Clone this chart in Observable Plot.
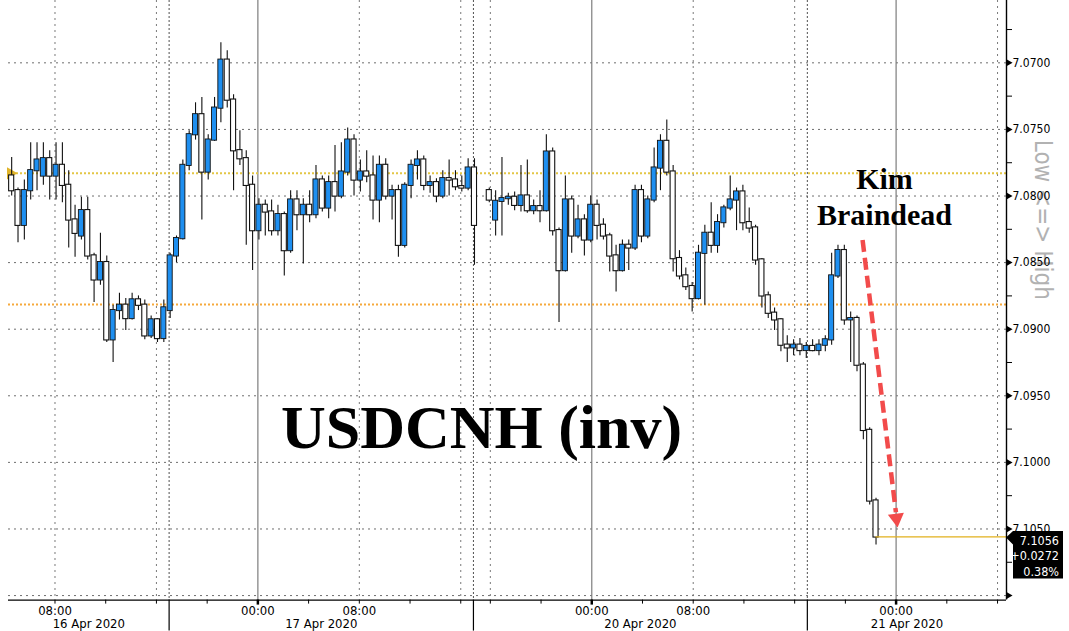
<!DOCTYPE html>
<html><head><meta charset="utf-8">
<script src="https://cdn.jsdelivr.net/npm/d3@7"></script>
<script src="https://cdn.jsdelivr.net/npm/@observablehq/plot@0.6"></script>
<style>
html,body{margin:0;padding:0;background:#fff;}
#chart{width:1069px;height:631px;overflow:hidden;}
</style></head><body><div id="chart"></div>
<script>
// x = trading-hour index: hours since 16 Apr 2020 00:00 (weekend collapsed: 20 Apr 00:00 -> 50.333)
const xMin = 4.333, xMax = 83.04;
const yMin = 7.06532, yMax = 7.11034;   // axis is inverted (higher USDCNH lower on the chart)

// 30-minute candles, session A: 16 Apr 04:20 -> 17 Apr 17:00
const segAStart = 4.333;
const aOpen  = [7.0785,7.0796,7.0822,7.0796,7.0781,7.0785,7.0772,7.0785,7.0777,7.0792,
                7.0818,7.0830,7.0811,7.0845,7.0863,7.0850,7.0908,7.0886,7.0882,7.0892,
                7.0878,7.0882,7.0905,7.0893,7.0907,7.0886,7.0845,7.0832,7.0777,7.0754,
                7.0739,7.0782,7.0758,7.0734,7.0698,7.0728,7.0766,7.0772,7.0792,7.0826,
                7.0807,7.0812,7.0826,7.0814,7.0841,7.0803,7.0814,7.0807,7.0814,7.0788,
                7.0809,7.0790,7.0800,7.0782,7.0758,7.0788,7.0782,7.0785,7.0803,7.0777,
                7.0800,7.0796,7.0837,7.0792,7.0777,7.0773,7.0792,7.0790,7.0800,7.0787,
                7.0788,7.0793,7.0794,7.0779];
const aLow   = [7.0771,7.0794,7.0788,7.0760,7.0760,7.0760,7.0766,7.0760,7.0760,7.0781,
                7.0807,7.0801,7.0801,7.0843,7.0828,7.0845,7.0882,7.0873,7.0877,7.0873,
                7.0875,7.0878,7.0890,7.0892,7.0878,7.0843,7.0830,7.0773,7.0751,7.0730,
                7.0726,7.0754,7.0726,7.0685,7.0691,7.0724,7.0751,7.0766,7.0785,7.0802,
                7.0803,7.0803,7.0807,7.0812,7.0796,7.0796,7.0802,7.0796,7.0777,7.0785,
                7.0785,7.0762,7.0760,7.0749,7.0754,7.0773,7.0766,7.0770,7.0770,7.0772,
                7.0792,7.0792,7.0790,7.0773,7.0766,7.0770,7.0785,7.0787,7.0781,7.0773,
                7.0781,7.0785,7.0772,7.0772];
const aHigh  = [7.0800,7.0835,7.0833,7.0803,7.0796,7.0792,7.0803,7.0803,7.0805,7.0839,
                7.0846,7.0833,7.0848,7.0880,7.0867,7.0910,7.0925,7.0893,7.0901,7.0893,
                7.0886,7.0908,7.0907,7.0910,7.0910,7.0892,7.0850,7.0833,7.0781,7.0758,
                7.0818,7.0788,7.0759,7.0745,7.0734,7.0796,7.0777,7.0837,7.0856,7.0833,
                7.0830,7.0830,7.0830,7.0860,7.0843,7.0826,7.0851,7.0820,7.0817,7.0812,
                7.0817,7.0812,7.0802,7.0785,7.0800,7.0797,7.0790,7.0818,7.0820,7.0803,
                7.0818,7.0846,7.0839,7.0802,7.0788,7.0796,7.0798,7.0805,7.0802,7.0800,
                7.0796,7.0797,7.0796,7.0852];
const aClose = [7.0796,7.0822,7.0796,7.0781,7.0773,7.0772,7.0785,7.0777,7.0792,7.0818,
                7.0828,7.0811,7.0845,7.0863,7.0850,7.0908,7.0886,7.0882,7.0892,7.0878,
                7.0882,7.0905,7.0893,7.0907,7.0884,7.0845,7.0832,7.0777,7.0754,7.0739,
                7.0782,7.0758,7.0734,7.0698,7.0728,7.0766,7.0772,7.0792,7.0826,7.0807,
                7.0812,7.0826,7.0814,7.0841,7.0803,7.0814,7.0807,7.0814,7.0788,7.0809,
                7.0790,7.0800,7.0782,7.0758,7.0788,7.0782,7.0785,7.0803,7.0777,7.0800,
                7.0796,7.0837,7.0792,7.0777,7.0773,7.0792,7.0790,7.0800,7.0787,7.0788,
                7.0793,7.0794,7.0779,7.0822];

// session B: 19 Apr ~15:40 -> 20 Apr ~22:40
const segBStart = 42.0;
const bOpen  = [7.0796,7.0818,7.0804,7.0802,7.0801,7.0807,7.0800,7.0811,7.0808,7.0811,
                7.0767,7.0826,7.0856,7.0803,7.0830,7.0818,7.0833,7.0807,7.0822,7.0830,
                7.0845,7.0856,7.0837,7.0839,7.0796,7.0830,7.0803,7.0779,7.0759,7.0782,
                7.0847,7.0860,7.0868,7.0877,7.0843,7.0828,7.0837,7.0820,7.0809,7.0803,
                7.0797,7.0820,7.0824,7.0848,7.0875,7.0888,7.0893,7.0912,7.0914,7.0912,
                7.0916,7.0913,7.0916,7.0912,7.0908,7.0860,7.0841,7.0893,7.0892,7.0927,
                7.0976,7.1029];
const bLow   = [7.0794,7.0796,7.0771,7.0798,7.0797,7.0777,7.0773,7.0803,7.0796,7.0754,
                7.0764,7.0824,7.0785,7.0800,7.0807,7.0814,7.0800,7.0803,7.0817,7.0828,
                7.0837,7.0833,7.0833,7.0792,7.0792,7.0800,7.0764,7.0754,7.0743,7.0777,
                7.0841,7.0854,7.0865,7.0837,7.0822,7.0805,7.0814,7.0807,7.0785,7.0794,
                7.0792,7.0809,7.0822,7.0847,7.0872,7.0884,7.0892,7.0905,7.0908,7.0907,
                7.0910,7.0908,7.0908,7.0905,7.0843,7.0837,7.0837,7.0887,7.0890,7.0925,
                7.0974,7.1027];
const bHigh  = [7.0805,7.0830,7.0830,7.0807,7.0811,7.0812,7.0813,7.0814,7.0820,7.0812,
                7.0830,7.0895,7.0857,7.0843,7.0832,7.0845,7.0835,7.0833,7.0833,7.0857,
                7.0872,7.0857,7.0856,7.0841,7.0835,7.0832,7.0805,7.0796,7.0785,7.0857,
                7.0863,7.0871,7.0887,7.0878,7.0882,7.0843,7.0843,7.0824,7.0811,7.0826,
                7.0826,7.0828,7.0852,7.0884,7.0892,7.0901,7.0917,7.0925,7.0920,7.0920,
                7.0922,7.0917,7.0920,7.0917,7.0912,7.0862,7.0897,7.0925,7.0932,7.0983,
                7.1032,7.1062];
const bClose = [7.0803,7.0804,7.0802,7.0801,7.0807,7.0800,7.0811,7.0808,7.0811,7.0767,
                7.0826,7.0856,7.0803,7.0830,7.0818,7.0833,7.0807,7.0822,7.0830,7.0845,
                7.0856,7.0837,7.0839,7.0796,7.0830,7.0803,7.0779,7.0759,7.0782,7.0847,
                7.0860,7.0868,7.0877,7.0843,7.0828,7.0837,7.0820,7.0809,7.0803,7.0797,
                7.0820,7.0824,7.0848,7.0875,7.0888,7.0893,7.0912,7.0914,7.0912,7.0916,
                7.0913,7.0916,7.0912,7.0908,7.0860,7.0841,7.0893,7.0892,7.0927,7.0976,
                7.1029,7.1056];

// axis ticks / labels
const yTicks = [7.0700,7.0750,7.0800,7.0850,7.0900,7.0950,7.1000,7.1050,7.1100];
const yLabelTicks = [7.0700,7.0750,7.0800,7.0850,7.0900,7.0950,7.1000,7.1050];
const yMinorTicks = [7.0675,7.0725,7.0775,7.0825,7.0875,7.0925,7.0975,7.1025,7.1075];
const xTicks4h = [8,12,16,20,24,28,32,36,40,42.333,46.333,50.333,54.333,58.333,62.333,66.333,70.333,74.333,78.333,82.333];
const grid8h = [8,16,32,40,42.333,58.333,66.333,82.333];
const midnightTicks = [24,50.333,74.333];
const sessionBreaks = [17,41,67.333];
const timeLabelTicks = [8,24,32,50.333,58.333,74.333];
const timeLabels = ["08:00","00:00","08:00","00:00","08:00","00:00"];
const dateLabels = ["16 Apr 2020","17 Apr 2020","20 Apr 2020","21 Apr 2020"];

// reference levels and annotations
const yellowLevel = 7.0783;
const orangeLevel = 7.08815;
const lastClose = 7.1056;
const priceBoxLines = ["7.1056","+0.0272","0.38%"];
const titleNote = {x: 41.64, y: 7.0989, text: "USDCNH (inv)"};
const kimNote = {x: 73.42, y: 7.0822, text: "Kim\nBraindead"};
const arrowLine = {x1: 71.69, y1: 7.0833, x2: 74.32, y2: 7.10375};
const arrowHead = {x: 74.36, y: 7.1042};
const leftMarker = {x: 4.49, y: 7.0783};
const sideNote = {y: 7.0878, text: "Low <=> High"};

// build candle table
const candles = [];
aOpen.forEach((o, i) => candles.push({t: segAStart + 0.25 + 0.5 * i, open: o, low: aLow[i], high: aHigh[i], close: aClose[i]}));
bOpen.forEach((o, i) => candles.push({t: segBStart + 0.25 + 0.5 * i, open: o, low: bLow[i], high: bHigh[i], close: bClose[i]}));
candles.forEach(d => { d.lo = Math.min(d.low, d.open, d.close); d.hi = Math.max(d.high, d.open, d.close); });
const lastT = candles[candles.length - 1].t;

const bounds = [xMin, ...sessionBreaks, xMax];
const dateData = dateLabels.map((label, i) => ({x: (bounds[i] + bounds[i + 1]) / 2, label}));

const BLUE = "#1e8ff0";
const HALF = 0.2;
const axisFont = "'DejaVu Sans Condensed','DejaVu Sans',sans-serif";
const serif = "'Liberation Serif','DejaVu Serif',serif";
const blank = () => "";

const chart = Plot.plot({
  width: 1069, height: 631,
  marginTop: 0, marginBottom: 31.4, marginLeft: 8, marginRight: 63,
  style: {fontFamily: axisFont, fontSize: "12px", background: "#fff", color: "#000"},
  x: {type: "linear", domain: [xMin, xMax], label: null},
  y: {type: "linear", domain: [yMin, yMax], reverse: true, label: null},
  marks: [
    Plot.ruleY(yTicks, {stroke: "#6e6e6e", strokeDasharray: "2,4"}),
    Plot.ruleX(grid8h, {stroke: "#7a7a7a", strokeDasharray: "2,4"}),
    Plot.ruleX(sessionBreaks, {stroke: "#505050", strokeDasharray: "2,2"}),
    Plot.ruleX(midnightTicks, {stroke: "#7d7d7d", strokeWidth: 1.2}),
    Plot.ruleY([yellowLevel], {stroke: "#e3c646", strokeWidth: 2, strokeDasharray: "2,2"}),
    Plot.ruleY([orangeLevel], {stroke: "#f6a93c", strokeWidth: 2, strokeDasharray: "2,2"}),
    Plot.dot([leftMarker], {x: "x", y: "y", symbol: "triangle", rotate: 90, r: 4.5, fill: "#e0b42a"}),
    // candles
    Plot.ruleX(candles, {x: "t", y1: "lo", y2: "hi", stroke: "#111", strokeWidth: 1.1}),
    Plot.rect(candles.filter(d => d.close >= d.open), {x1: d => d.t - HALF, x2: d => d.t + HALF, y1: "open", y2: "close",
      fill: "#fff", stroke: "#111", strokeWidth: 1.1, insetTop: -0.6, insetBottom: -0.6}),
    Plot.rect(candles.filter(d => d.close < d.open), {x1: d => d.t - HALF, x2: d => d.t + HALF, y1: "open", y2: "close",
      fill: BLUE, stroke: "#111", strokeWidth: 0.9, insetTop: -0.6, insetBottom: -0.6}),
    // last price line
    Plot.ruleY([lastClose], {x1: lastT, x2: xMax, stroke: "#e2b01c", strokeWidth: 1.2}),
    // annotations
    Plot.text([titleNote], {x: "x", y: "y", text: "text", fontFamily: serif, fontWeight: "bold", fontSize: 62, fill: "#000", lineAnchor: "bottom"}),
    Plot.text([kimNote], {x: "x", y: "y", text: "text", fontFamily: serif, fontWeight: "bold", fontSize: 30, lineHeight: 1.2, fill: "#000", lineAnchor: "bottom"}),
    Plot.link([arrowLine], {x1: "x1", y1: "y1", x2: "x2", y2: "y2", stroke: "#f24b4b", strokeWidth: 4.5, strokeDasharray: "12,6"}),
    Plot.dot([arrowHead], {x: "x", y: "y", symbol: "triangle", rotate: 173, r: 6, fill: "#f24b4b"}),
    Plot.text([sideNote], {frameAnchor: "right", y: "y", text: "text", dx: 36, rotate: 90, fontSize: 24, fill: "#b2b2b2", fontFamily: axisFont}),
    // axes
    Plot.ruleX([xMax], {stroke: "#000", strokeWidth: 1.4}),
    Plot.ruleY([yMax], {stroke: "#000", strokeWidth: 1.2}),
    Plot.axisY(yMinorTicks, {anchor: "right", tickSize: 5, tickFormat: blank, label: null}),
    Plot.dot(yTicks, {x: xMax, y: d => d, symbol: "triangle", rotate: 90, r: 2.6, fill: "#000", dx: 2}),
    Plot.axisY(yLabelTicks, {anchor: "right", tickSize: 0, tickPadding: 6, tickFormat: d => d.toFixed(4), fontSize: 12, label: null}),
    Plot.axisX(xTicks4h, {tickSize: 4, tickFormat: blank, label: null}),
    Plot.axisX(midnightTicks, {tickSize: 5, strokeWidth: 2.5, tickFormat: blank, label: null}),
    Plot.axisX(sessionBreaks, {tickSize: 31, strokeWidth: 1.2, tickFormat: blank, label: null}),
    Plot.axisX(timeLabelTicks, {tickSize: 0, tickPadding: 5.5, tickFormat: d => timeLabels[timeLabelTicks.indexOf(d)], fontSize: 13, label: null}),
    Plot.text(dateData, {x: "x", text: "label", frameAnchor: "bottom", lineAnchor: "bottom", dy: 28, fontSize: 13, fill: "#000"})
  ]
});

document.getElementById("chart").appendChild(chart);

// price tag on the right axis, positioned through the plot's scales
const px = chart.scale("x").apply(xMax);
const py = chart.scale("y").apply(lastClose);
const g = d3.select(chart).append("g");
g.append("path")
  .attr("d", `M${px},${py + 1} L${px + 7},${py - 5.5} H${px + 57} V${py + 42} H${px + 7} V${py + 8} Z`)
  .attr("fill", "#000");
priceBoxLines.forEach((s, i) => {
  g.append("text").attr("x", px + 53).attr("y", py + 8.5 + i * 15.5)
    .attr("text-anchor", "end").attr("fill", "#fff")
    .attr("font-family", axisFont).attr("font-size", 12.5).text(s);
});
</script></body></html>
